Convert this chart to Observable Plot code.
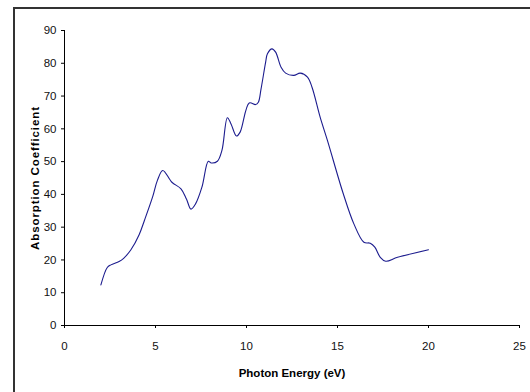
<!DOCTYPE html>
<html>
<head>
<meta charset="utf-8">
<script src="https://cdn.jsdelivr.net/npm/d3@7"></script>
<script src="https://cdn.jsdelivr.net/npm/@observablehq/plot@0.6"></script>
<style>
  html, body { margin: 0; padding: 0; background: #fff; }
  #wrap { position: relative; width: 530px; height: 392px; overflow: hidden; }
  #border { position: absolute; left: 13px; top: 7px; width: 540px; height: 400px;
            border-top: 2px solid #333; border-left: 2px solid #333; box-sizing: border-box; }
  #chart { position: absolute; left: 0; top: 0; }
  #chart svg { font-family: "Liberation Sans", Arial, sans-serif; }
  #chart g[aria-label="x-axis label"] text,
  #chart g[aria-label="y-axis label"] text { font-weight: bold; font-size: 11.5px; fill: #000; }
  #chart g[aria-label="y-axis label"] text { letter-spacing: 0.9px; }
  #chart g[aria-label="x-axis tick label"] text,
  #chart g[aria-label="y-axis tick label"] text { font-size: 11.5px; fill: #111; }
</style>
</head>
<body>
<div id="wrap"><div id="border"></div><div id="chart"></div></div>
<script>
const energy = [2.0, 2.35, 2.55, 3.0, 3.25, 3.65, 4.1, 4.4, 4.85, 5.1, 5.4, 5.9, 6.4, 6.7, 6.95, 7.2, 7.55, 7.9, 8.05, 8.4, 8.65, 8.95, 9.15, 9.45, 9.65, 10.15, 10.5, 10.65, 10.8, 11.05, 11.15, 11.4, 11.6, 11.9, 12.15, 12.6, 12.95, 13.35, 13.6, 14.05, 14.45, 15.3, 15.9, 16.45, 16.8, 17.05, 17.35, 17.65, 18.3, 20.0];
const absorption = [12.4, 17.7, 18.5, 19.5, 20.5, 23.1, 27.7, 32.2, 39.4, 44.2, 47.3, 43.7, 41.7, 38.6, 35.5, 37.1, 42.2, 50.1, 49.6, 50.1, 53.4, 63.4, 61.5, 57.8, 59.0, 67.9, 67.4, 68.1, 72.2, 80.3, 82.9, 84.4, 83.4, 78.8, 77.0, 76.3, 77.0, 75.8, 72.7, 63.5, 56.4, 40.5, 31.0, 25.4, 25.1, 23.9, 20.8, 19.6, 20.8, 23.1];
const xTicks = [0, 5, 10, 15, 20, 25];
const yTicks = [0, 10, 20, 30, 40, 50, 60, 70, 80, 90];
const xTitle = "Photon Energy (eV)";
const yTitle = "Absorption Coefficient";

const data = energy.map((e, i) => ({e, a: absorption[i]}));

const chart = Plot.plot({
  width: 530,
  height: 392,
  marginLeft: 64,
  marginRight: 11,
  marginTop: 30,
  marginBottom: 67,
  style: {background: "transparent", overflow: "visible"},
  x: {domain: [0, 25]},
  y: {domain: [0, 90]},
  marks: [
    Plot.axisX({ticks: xTicks, tickSize: 3, tickPadding: 13, label: xTitle, labelAnchor: "center", labelOffset: 51, labelArrow: "none", stroke: "#000"}),
    Plot.axisY({ticks: yTicks, tickSize: 3, tickPadding: 5, label: yTitle, labelAnchor: "center", labelOffset: 34, labelArrow: "none", stroke: "#000"}),
    Plot.ruleY([0], {stroke: "#000"}),
    Plot.ruleX([0], {stroke: "#000"}),
    Plot.line(data, {x: "e", y: "a", stroke: "#1c1c8e", strokeWidth: 1.1, curve: "catmull-rom"})
  ]
});
document.getElementById("chart").appendChild(chart);
</script>
</body>
</html>
